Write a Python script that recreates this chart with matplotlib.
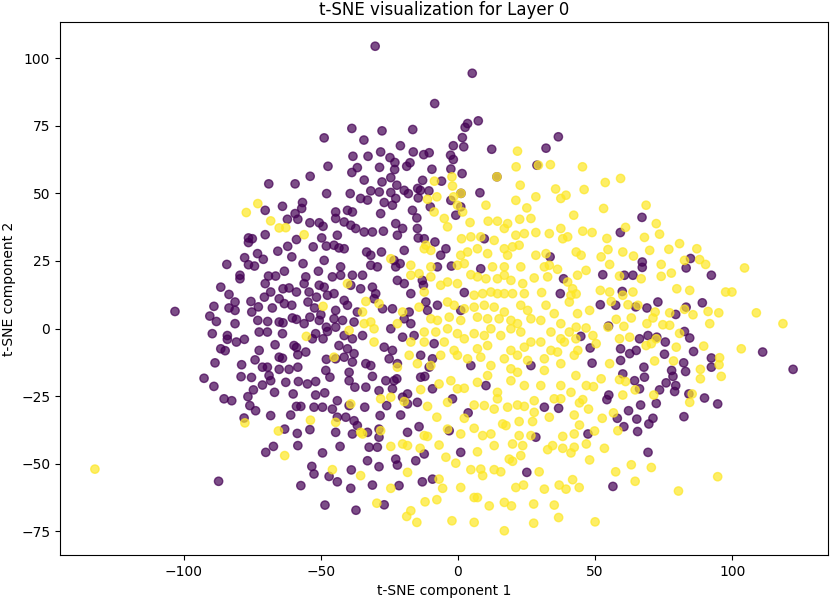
import numpy as np
import matplotlib
matplotlib.use("Agg")
import matplotlib.pyplot as plt

# class 0 (purple) points: (t-SNE 1, t-SNE 2)
purple_pts = [
(-69,53.5),(-59.4,53.5),(-53.9,56.3),
(-30.2,104.4),(5.2,94.4),(-8.5,83.2),(7.4,76.8),(3.5,75.8),(2.6,74.4),(-38.7,74.0),(-27.7,73.1),(-16.5,73.6),(-48.8,70.5),(-34.3,69.7),(36.6,70.9),(1.6,70.6),(-21,67.6),(-1.7,67.6),(2.1,67.2),(12.3,66.3),(32.1,66.7),(-38.3,63.7),(-32.8,63.7),(-28.2,65.3),(-16.3,65.3),(-12.5,64.3),(-10.5,65),(-2.7,64.1),(-1.7,62.5),(-24.8,63.2),(-47.4,60.0),(-36.7,59.5),(-38.7,57.7),(-28.6,59.6),(-23,61.4),(-23.1,58.8),(-18.7,60.0),(-17.5,61.3),(-9.5,58.9),(-2.6,59.0),(1.5,57.3),(28.8,60.4),(-6,54.5),(14.2,56.1),(-34.2,54.9),(-27.7,54.2),(-24.5,55.8),(-22.3,53.0),(-12.9,54.8),(-31.8,50.9),(-28.7,50.5),(-24.5,50.3),(-19.6,51.1),(-18.1,49.9),(-14.7,51.8),(-13.7,51.1),(-10.6,50.9),(-47.9,49.9),(-39.3,49.9),(1.1,50.0),(8,50.2),
(-70.3,43.7),(-64.0,45.2),(-56.7,46.6),(-57,44.4),(-59.4,42.5),(-62.2,40.4),(-58.4,40.4),(-54.0,39.1),(-50.6,39.1),(-49.2,37.8),(-70.3,34.7),(-76.4,33.5),(-75,33.2),(-76.4,31.8),(-58.9,32.9),(-62.1,30.4),(-49.7,33.5),(-48,30.5),(-52.8,30.2),(-65.7,28.6),(-60.6,26.5),(-73.1,27.7),(-71,25.6),(-77.8,26.2),(-76.4,23.6),(-74.2,23.1),(-84.3,23.7),(-56.5,24),(-48.8,25.2),(-63.3,21.2),(-50.9,21.2),(-69.1,19.4),(-66.5,19.4),(-79.5,19.7),(-79.5,18.4),(-55.5,19.1),(-70.3,16.6),(-56.1,16.6),(-50.6,16),(-48.8,15.3),(-86.5,15.3),(-83.5,12.6),(-68.3,13.5),(-63.8,14.7),(-61.6,15),(-58.9,13.5),(-54.3,13.5),(-51.6,11.6),(-47.6,12.3),(-70.6,11.6),(-65.2,11),(-75.5,10.0),(-81.3,9.8),(-89,8.2),(-83.5,7.6),(-81.3,6.7),(-72.8,8.0),(-67.7,7.6),(-63.3,9.2),(-60.6,8.6),(-54.7,9.8),(-52.3,7.6),(-103.2,6.3),(-75.2,6.1),(-90.5,4.6),(-88.1,2.6),(-81.3,1.8),(-73.0,3),(-69.4,2.6),(-65.2,2.4),(-63.8,2.1),(-60.4,3.9),(-58.9,3.4),(-56.1,1.8),(-54.0,4.2),(-50.6,3),(-50,5.1),(-48,0.5),(-89.6,-1.9),(-84.1,-2.6),(-84.1,-4.0),(-80.8,-5.0),(-77.9,-4.0),(-72.5,-1.3),(-69.5,-1.3),(-64.0,-1.9),(-53.1,-3.8),(-51.9,-1.9),(-49.2,-3.8),(-47.6,-1.1),(-86.5,-7.5),(-84.9,-8.2),(-72.5,-8.1),(-66.7,-6.0),(-59.8,-6.3),(-58.9,-7),(-55.5,-8.7),(-58.4,-9.7),(-65.2,-10.6),(-64.0,-11),(-88.6,-12.7),(-78.9,-13.4),(-74.0,-11.6),(-71.3,-14.3),(-69.5,-14.3),(-65.2,-15.1),(-61.6,-15.1),(-58.4,-14.3),(-48,-11.4),(-48.2,-15.5),
(-35.5,48.1),(-33,47.5),(-26.9,46.6),(-22.7,48.1),(-23.9,45.6),(-28.2,42.5),(-40.3,43.7),(-38.5,43.1),(-44.6,43.1),(-16.6,43.7),(-14.5,48.3),(-10.1,45),(-2.6,47.4),(1.0,45),(-0.8,41.9),
(-44.6,40.7),(-41.5,39.4),(-39.1,38.2),(-37.3,37),(-34.2,35.7),(-31.2,35.7),(-27.2,36),(-22.7,38.8),(-20.2,37),(-22.1,34.5),(-14.8,37),(-15,40.9),(-14.5,33.5),(-12.3,33.2),(-8.4,32),(-44,34.5),(9.6,33.2),
(-45.2,30.8),(-43.4,29.8),(-41.5,29.5),(-33.3,28.3),(-31.8,27.1),(-27.9,28.3),(-19.6,28.9),(-23.3,25.2),(-21.1,24),(-22.7,22.8),(-29.4,22.8),(-31.8,23.4),(-42.8,22.8),(-4.4,29.5),(-6.3,27.1),(-2.4,23.1),(8.3,22.1),(33.6,26.5),(-7.5,22.8),
(-42.8,19.7),(-45.8,19.1),(-38.5,19.7),(-34.8,19.7),(-39.1,16),(-35.5,14.7),(-45.2,12.9),(-31.2,15.3),(-30,12.9),(-22.1,17.8),(-19.6,16.6),(-17.2,12.9),(-13,17.8),(-12.6,16),(38.5,18.4),(37.3,12.9),(2.3,13.3),
(-41.5,10.4),(-44.6,6.7),(-40.3,8.6),(-36.7,6.1),(-30.6,11),(-27.5,7.3),(-23.9,7.3),(-17.8,6.1),(-11.7,9.8),(-7.5,8.6),(-11.1,6.7),(1.0,6.7),(-45.2,3.6),(-42.1,3),(-37.9,2.4),(-19.6,3.6),(-17.2,1.8),
(-44.6,0.5),(-41.5,-2.6),(-38.5,-3.8),(-34.8,-2.6),(-24.5,-0.1),(-20.2,-3.2),(-16,-2.6),(-8.7,-5.6),(-23.9,-8.1),(-26.9,-6.9),(-40.3,-7.5),(-43.4,-6.3),
(-44.6,-11.2),(-41.5,-10.6),(-37.9,-9.3),(-38.5,-12.4),(-33.6,-13),(-31.8,-13.7),(-25.1,-11.2),(-22.1,-13),(-13.6,-9.9),(-9.3,-11.2),(4.7,-13.7),(26.6,-13.7),
(67.1,41.1),(59.2,35.5),(67.2,24.6),(67.2,22.6),(84.8,25.9),(83.2,22.4),(52.8,19.9),(60.7,19.7),(63.8,19.7),(92.4,19.7),(59.9,13.7),(51.9,8.8),(57.5,8.6),(64.8,8),(68.9,7.6),(72.9,9.8),(79.4,5.2),(83.2,7.9),(89.1,9.5),(54.9,0.9),(44.8,-2.9),(48.2,-7.2),(66.2,-3.8),(69.3,-2.6),(72.5,-3.2),(75.6,-5),(82.6,-1.1),(84.5,-3.5),(59.3,-7.5),(62.6,-9.3),(65,-8.1),(75.3,-9.5),(85.9,-8.5),(92.4,-10.9),(48.9,-12.8),(59.3,-11.8),(67.8,-14.3),(77.9,-15.5),(82.3,-12.7),(92.4,-14.3),(111.1,-8.7),(122.2,-15.1),
(-92.6,-18.4),(-89,-21.4),(-85.3,-26.0),(-82.5,-26.7),(-79.1,-17.8),(-75.3,-18.1),(-71.3,-20.9),(-68.3,-19.3),(-68.9,-17.4),(-62.8,-19.9),(-58.2,-19.6),(-54.9,-20.5),(-51.9,-19.6),(-46.7,-18),(-74.6,-22.7),(-76.6,-25.2),(-66.9,-23.6),(-60.1,-24.2),(-51.9,-24.6),(-48.6,-23.8),(-75.9,-28.5),(-73.8,-30.4),(-58.9,-28.8),(-57.3,-28.8),(-52.5,-29.1),(-49.4,-29.1),(-78.0,-33.1),(-68.3,-32.2),(-61,-32),(-63.2,-37.2),(-58.6,-38.8),(-54.0,-37.4),(-67.3,-43.6),(-70.1,-45.8),(-58.4,-43.3),(-49.4,-46.0),(-53.3,-51),(-52.5,-53.8),(-47,-54.7),(-87.3,-56.5),(-57.3,-58.1),(-48.5,-65.3),
(-39.7,-16.2),(-39.7,-19.3),(-37.6,-21.7),(-33.6,-21.7),(-31.2,-17.7),(-28.8,-23),(-26.3,-19.3),(-23.3,-19.3),(-23.9,-22.3),(-22.3,-18.6),(-44,-26.7),(-45.8,-29.8),(-39.7,-28.5),(-34,-29.1),(-26,-28.5),(-28.4,-32.2),(-20.9,-32),(-44,-32.8),(-40.9,-32.8),(-37.9,-34.1),(-36.7,-35.9),(-44.6,-38.4),(-38.5,-39),(-33,-38.4),(-28.8,-40.2),(-28.8,-37.2),(-43,-43.6),(-32.4,-43.9),(-29.4,-43.9),(-33,-48.9),(-28.8,-51.1),(-22.7,-48.3),(-22.1,-50.5),(-15.4,-48.9),(-12.3,-46.4),(-14.2,-36.3),(-18.4,-38.4),(-20.2,-25.4),(-18.4,-24.2),(-14.8,-27.3),(-18.4,-27.9),(-13.6,-18.0),(-12.1,-17.7),(-10.5,-14.3),(-9.3,-22.3),(-2,-26),(3.7,-31.2),(-3.2,-37.8),(1.0,-45.8),(10.2,-21.1),(31.5,-29.1),(36.7,-29.5),(28.4,-40.2),(25.1,-53.2),(-38.9,-52.3),(-44,-56.7),(-39.1,-59.1),(-31.2,-57.9),(-21.5,-58.1),(-13,-56.7),(-9.3,-55.7),(-26.9,-65.2),(-37.2,-67.2),
(60.1,-16.8),(64.4,-19.3),(68,-18),(66.2,-22.3),(78.4,-17.7),(83,-15.9),(75.9,-20.1),(79.4,-21.1),(79,-23.3),(73.5,-22.7),(55,-24.6),(54.3,-26.3),(84.2,-24.2),(89.9,-25.7),(94.7,-27.9),(66.6,-28.3),(72.3,-27.7),(62.2,-30.4),(58.1,-33.2),(65.2,-33.5),(71.1,-33.2),(69.6,-35.3),(60.5,-36.3),(65.5,-38.1),(82.4,-32.6),(47.4,-39),(69.3,-45.8),(56.5,-58.4),
]

# class 1 (yellow) points
yellow_pts = [
(21.7,65.6),(21.2,59.8),(29.3,60.4),(33.7,60.6),(-2.2,56.1),(-8.6,54.5),(14.2,56.1),(-2,52.7),(22.7,53.0),(35.6,51.6),(1.1,50.0),
(45.4,59.8),(53.7,54.0),(59.3,55.5),(46,51.4),
(-73.0,46.2),(-77.2,42.9),(-68.3,39.8),(-65.2,37.2),(-62.8,37.3),(-56.1,34.7),(-49.2,8.2),(-55.3,-2.9),
(-11.1,47.8),(-7.7,48.7),(-1.6,48.7),(-0.2,45.6),(1.7,43.1),(10.2,45.6),(21.1,47.4),(25.1,44.6),(28.4,48.7),(37.5,48.1),(39.4,49.3),(42.2,41.9),(26.6,40.7),(22.5,40.4),(18.1,38.8),(11,39.7),(4.4,39.2),(-5,40.7),(-3.8,37.6),(-8.7,43.1),
(1.3,33.2),(8.3,33.9),(13.2,32.6),(16.9,37),(21.1,34.5),(24.2,35.1),(28.4,35.5),(33.3,35.1),(37.5,37),(38.2,33.2),(40,33.9),(14.4,39.7),(4.7,33.9),
(-11.7,30.8),(-9.9,28.9),(-12.3,29.5),(1.0,27.1),(3.5,28.3),(7.1,29.5),(10.8,27.7),(16.9,29.5),(19.9,30.2),(22.3,30.8),(18.1,27.1),(28.4,27.1),(32.1,27.7),(-24.5,25.8),(-17.2,23.4),(-9.9,22.8),(-0.2,23.4),(2.3,24),(12.6,22.8),(16.9,22.8),(22.9,22.8),(31.5,22.8),(33.3,23.4),(36.3,21.9),(43.6,19.7),
(-40.3,16.6),(-17.2,19.7),(-14.2,20.3),(-9.9,19.1),(-6.3,16),(-12.3,13.5),(-3.8,17.2),(-0.2,16.6),(4.7,19.9),(7.1,19.1),(10.2,18.4),(14.4,18.4),(16.9,19.7),(19.3,17.8),(23.6,16.6),(27.8,18.7),(32.7,19.1),(40,17.2),(41.8,14.7),(41.2,12.3),(9,12.9),(12,13.5),(14.4,12.9),(16.9,12.9),(19.9,12.9),(24.2,12.9),(30.5,13.3),(5.9,12.3),
(-33.6,10.0),(-28.8,9.2),(-34.8,6.1),(-20.2,6.1),(-14.2,7.9),(-3.8,9.8),(-1.4,8.6),(2.3,7.3),(5.9,7.9),(9.6,8.6),(13.2,7.9),(16.9,6.1),(22.9,8.6),(25.4,6.7),(32.1,8.6),(35.1,5.5),(40.6,9.8),(43.6,5.5),(-9.9,3.6),(-7.5,3),(-3.2,4.2),(1.0,3),(7.1,4.2),(10.8,3.6),(15,3.6),(19.3,3),(21.7,1.8),(26.6,3.6),(30.2,3),(37.5,1.8),(-31.8,2.4),(-34.2,1.8),(-22.1,1.8),
(-39.7,-0.7),(-30.6,-0.1),(-12.3,-1.3),(-8.1,-1.3),(-3.8,-0.1),(-0.2,-1.9),(2.3,-3.8),(5.9,-1.9),(9.6,-2.6),(12,-0.1),(15.6,-2.6),(19.3,-0.1),(22.9,-1.3),(26.6,-5),(30.2,-5),(33.9,-1.3),(37.5,-3.8),(40.6,-1.3),(43,-3.8),(-30.6,-5),(-17.2,-5),(-12.3,-5),(-5,-5),(-1.4,-8.1),(7.1,-7.5),(10.8,-6.3),(19.3,-8.1),(24.2,-6.9),(33.9,-8.1),(38.8,-5),
(-45.2,-10.6),(-17.8,-9.9),(-14.8,-13),(-9.9,-13.7),(-6.3,-9.9),(-0.2,-9.9),(3.5,-11.2),(8.3,-10.6),(12,-13.7),(16.9,-11.2),(21.7,-9.9),(25.4,-11.8),(31.5,-11.2),(36.3,-8.7),(37.5,-13),(42.4,-9.9),(-22.1,-14.3),(19.3,-14.9),(31.5,-15.5),
(53.1,44.4),(68.6,45.6),(72.3,38.8),(61.1,37.4),(45.5,36),(48.9,35.5),(54.3,33.3),(68.0,33.7),(73.5,34.9),(54.7,29.2),(60.1,28.3),(64,26.8),(69.9,28.9),(76.9,29.3),(80.8,31.4),(87.1,29.5),(43.1,28.3),(44.9,27.1),(52.2,26.5),(55.3,23.7),(74.1,23.7),(82.6,25.2),(88.1,25.5),(90.3,23.7),(104.5,22.4),(46.7,21.5),(58.9,19.4),(66.8,18.4),(74.1,19.3),(77.8,20.5),(43.1,12.8),(51.9,14.1),(55.3,13.5),(63.8,13.5),(79.8,14.7),(84.5,14.1),(97.6,13.5),(99.9,13.5),(55.9,10.0),(60.1,12.3),(62,8.8),(65.6,8.6),(48,6.7),(57.7,3.4),(63.2,3.9),(68.9,1.8),(71.9,6.1),(71.1,3.9),(77.2,5.8),(82.6,7.1),(85.7,5.1),(91.2,6.3),(95.1,5.8),(108.8,5.8),(118.5,1.8),(74.7,1.4),(77.2,1.2),(91.8,1.8),(43.1,0.5),(46.7,0.2),(54.7,0.5),(60.5,0.8),(80.8,-1.8),(49.2,-2.6),(50.4,-5.6),(58.9,-3.8),(62.6,-3.2),(68.6,-6.3),(72.3,-3.8),(70.5,-5.6),(79.6,-6.9),(89.6,-6.5),(103.3,-7.5),(43.7,-8.1),(71.7,-12),(78.6,-12),(55.3,-13),(95.4,-10.8),(95.2,-13.4),(88.4,-15.1),
(-77.7,-34.9),(-53.8,-33.9),(-65.5,-37.9),(-63.2,-47.0),(-132.4,-52.0),
(-13.6,-22.6),(-6.9,-20.5),(-2.6,-19.3),(-0.2,-22.3),(2.3,-22.1),(7.1,-19.9),(10.8,-17.4),(14.4,-23.6),(14.4,-26),(19.3,-19.3),(21.7,-16.2),(24.2,-21.1),(27.8,-26.7),(30.2,-21.1),(35.1,-26),(37.5,-26),(41.2,-23.6),(43,-17.4),(37.5,-21.1),(-28.2,-26),(-24.5,-25.4),(-19.6,-27),(-11.1,-28.8),(-3.8,-27.3),(5.9,-28.3),(9.6,-28.5),(13.2,-29.8),(18.1,-29.1),(21.7,-28.3),(24.2,-28.8),(27.8,-31),(33.3,-32.8),(42.4,-32),(-39.1,-27.9),(-44.6,-34.7),(-35.5,-38.4),(-7.7,-32.8),(2.3,-33.2),(5.9,-36.9),(16.3,-35.3),(17.5,-35.9),(22.3,-34.4),(27.2,-34.4),(-3.8,-37.2),(1.0,-39),(9,-39.6),(12,-39),(22.3,-39.6),(26.6,-39.6),(38.2,-39.9),(42.4,-39),(-28.2,-37.8),(-34.8,-39),(-12.3,-39.6),(-11.1,-39.9),(-24.5,-43.6),(-20.2,-42.7),(-18.4,-43.3),(-13.8,-44.3),(-6.9,-43.1),(7.1,-45.6),(13.2,-43.3),(19.9,-42.7),(23.6,-43.3),(32.7,-44.8),(34.5,-43.3),(38.2,-44.3),(41.2,-46),(42.4,-43.9),(-4.4,-47.6),(-0.8,-49.8),(18.7,-48.3),(19.9,-49.1),(22.9,-47),(4.7,-52.2),(8.3,-52),(9,-54.4),(13.2,-52.2),(15.6,-53),(29.6,-53),(-18.4,-53.2),(-35.5,-54.4),(-45.8,-52.2),(-6.9,-55.7),(-5.6,-59.1),(-24.5,-59.1),(1.0,-58.8),(21.1,-58.8),(23.9,-57.9),(31.5,-59.4),(36.9,-57.9),(39.4,-59.4),(41.8,-55.9),(44.2,-58.8),(-12,-64.1),(-7.7,-63.3),(5.9,-62.5),(7.1,-62.5),(11.4,-65.6),(16.9,-64.3),(19.5,-65.6),(27.6,-64.9),(35.1,-65.3),(-29.6,-64.6),(-17.2,-67.4),(-18.7,-69.5),(-15,-71.7),(-2.2,-71.1),(5.9,-71.7),(16.9,-74.8),(27.6,-72),(36.7,-69.9),
(52.2,-18.6),(46.8,-21.1),(49.4,-21.5),(58.9,-18.9),(61.1,-19.6),(64.6,-22.7),(60.1,-24.6),(71.4,-24.6),(85.4,-24.2),(84.5,-27.3),(88.4,-18.6),(96,-17.7),(44.3,-27.5),(45.5,-26.3),(47.6,-29.8),(52.6,-33.2),(56.7,-31.2),(44.3,-35.7),(49.8,-37.9),(58.3,-37.8),(46.8,-42.7),(53.4,-44.3),(48,-48.6),(63.2,-50.4),(70.5,-51.4),(57.5,-53),(64.6,-56.5),(80.4,-60.1),(94.7,-54.8),(50,-71.5),
]

title = "t-SNE visualization for Layer 0"
xlabel = "t-SNE component 1"
ylabel = "t-SNE component 2"

pts = np.array(purple_pts + yellow_pts, dtype=float)
labels = np.array([0] * len(purple_pts) + [1] * len(yellow_pts))

fig = plt.figure(figsize=(8.30, 5.99), dpi=100)
ax = fig.add_axes([60 / 830, 1 - 555 / 599, 768 / 830, 533 / 599])
ax.scatter(pts[:, 0], pts[:, 1], c=labels, cmap="viridis", alpha=0.7)
ax.set_title(title, pad=5)
ax.set_xlabel(xlabel)
ax.set_ylabel(ylabel)
fig.savefig("out.png", dpi=100)
